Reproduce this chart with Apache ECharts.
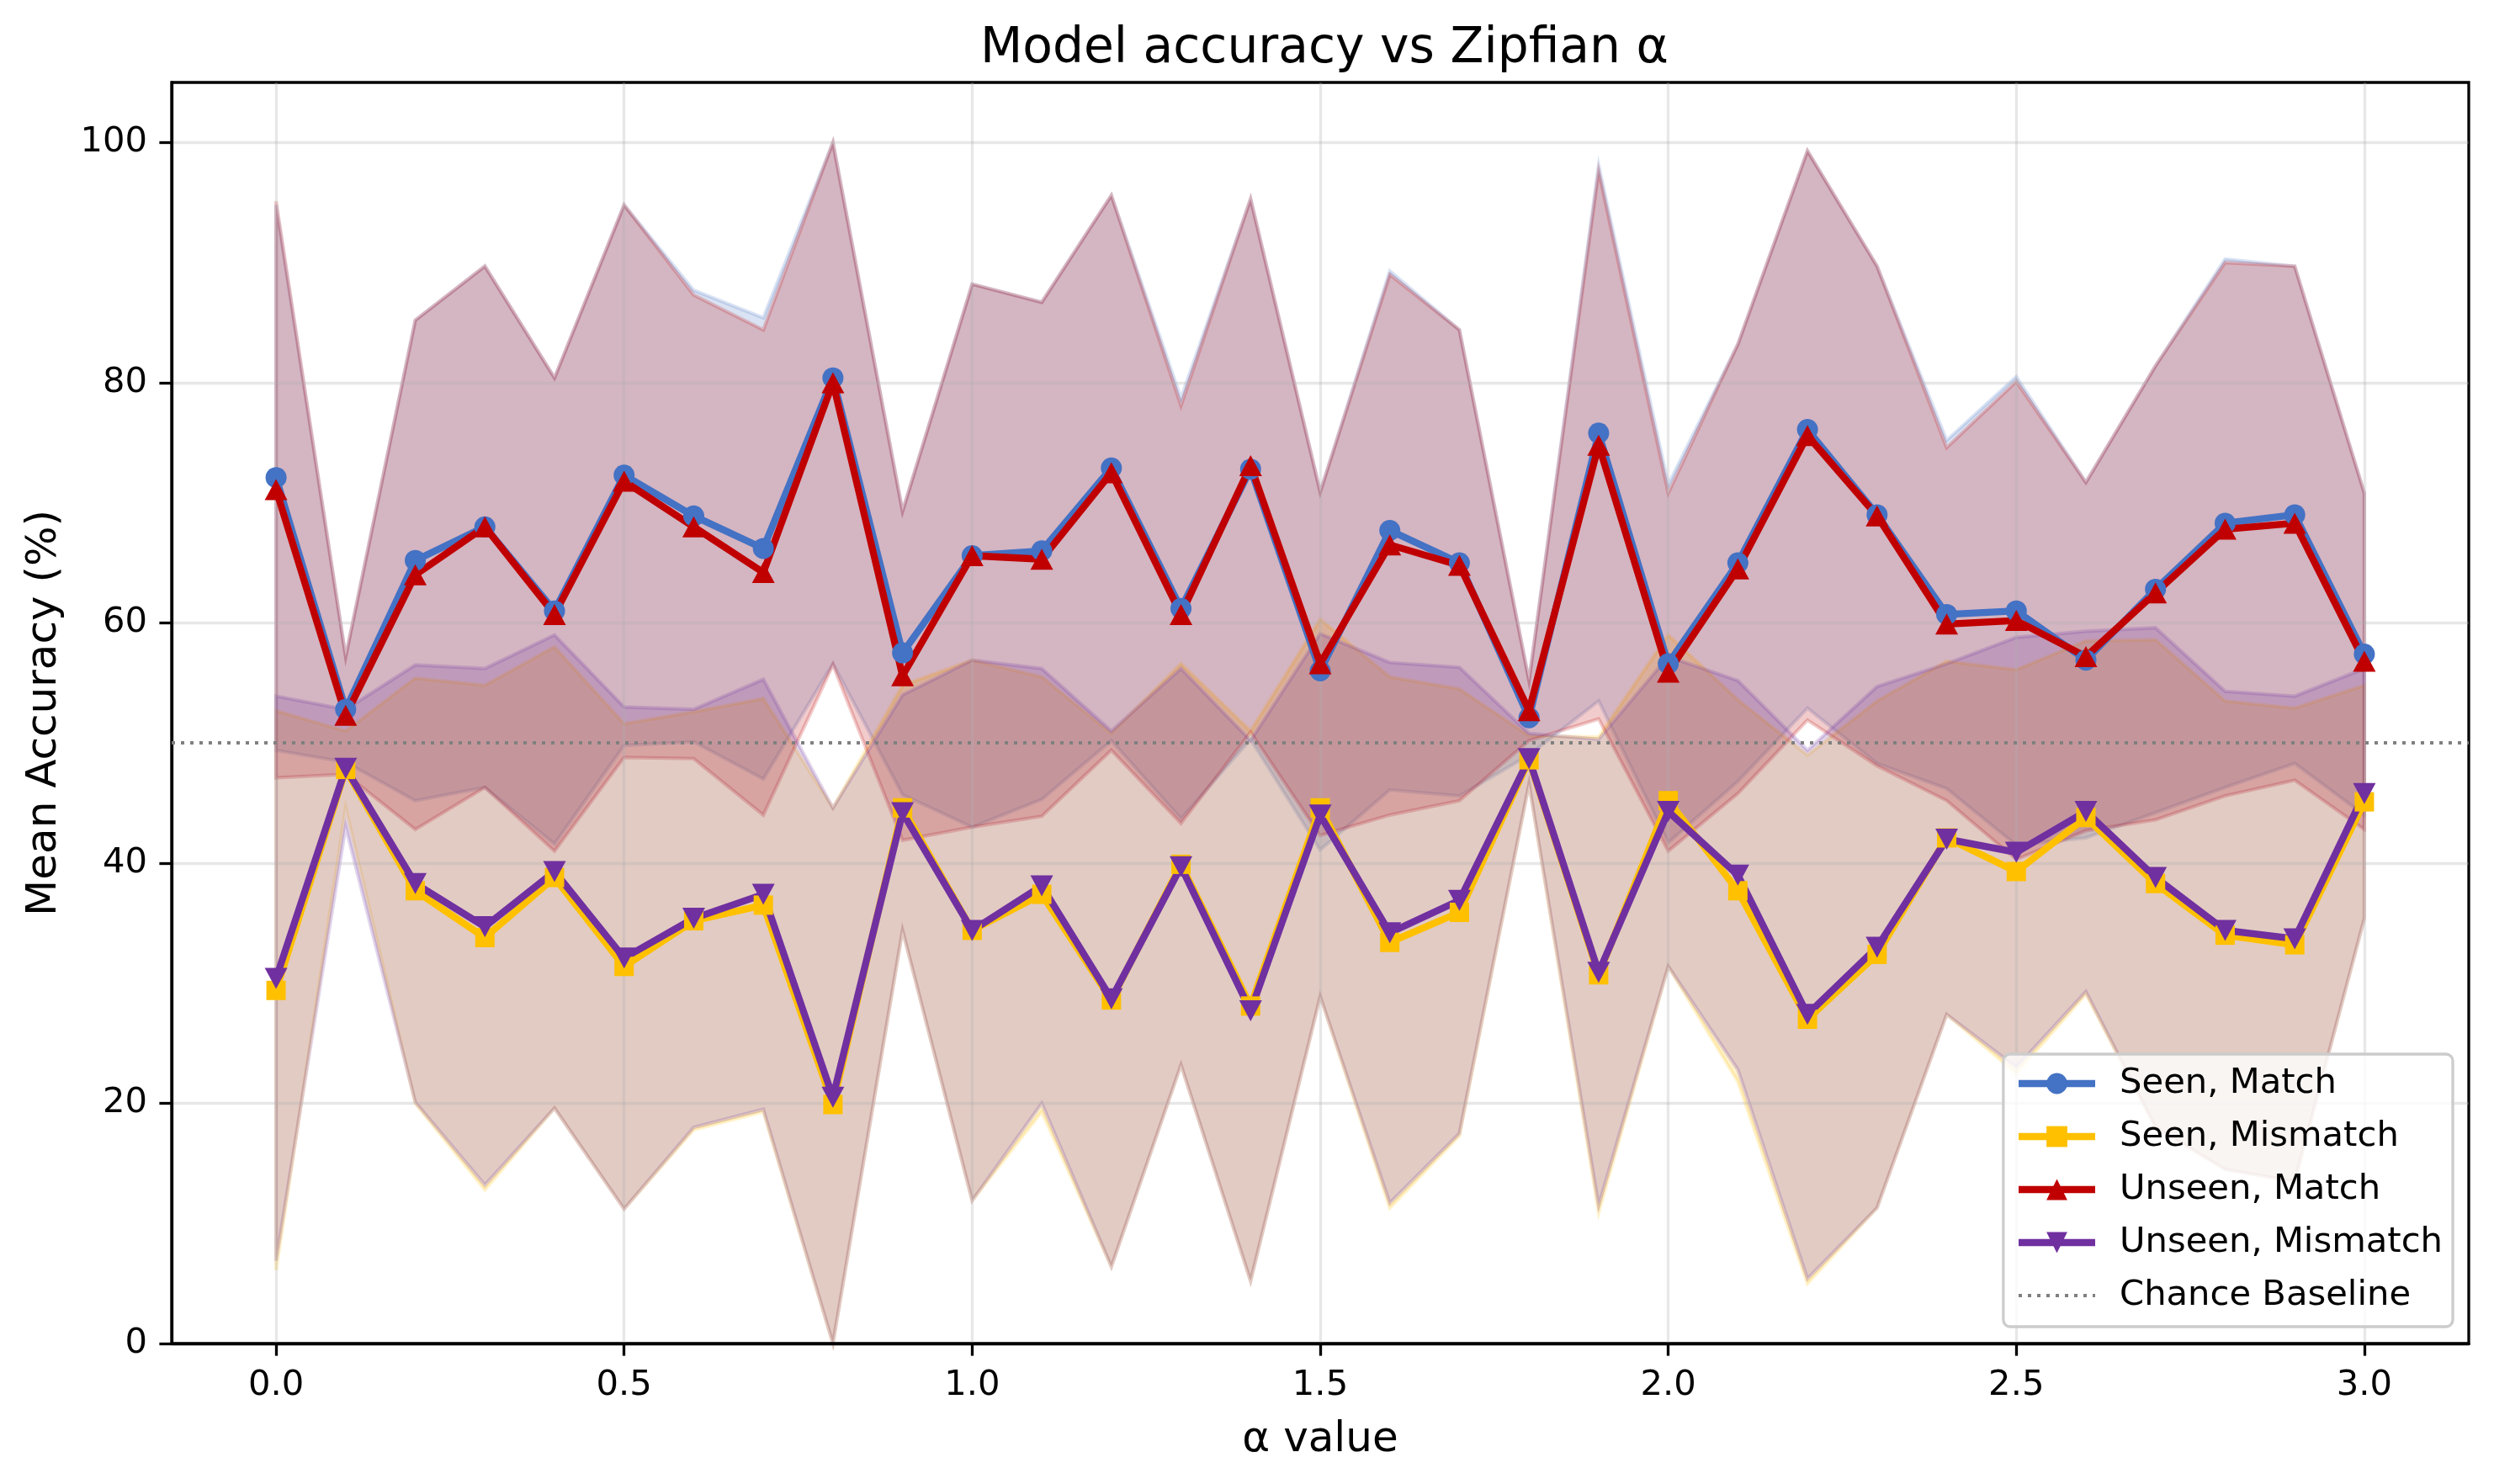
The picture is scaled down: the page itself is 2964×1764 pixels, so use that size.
<!DOCTYPE html>
<html>
<head>
<meta charset="utf-8">
<title>Model accuracy vs Zipfian α</title>
<script src="https://cdn.jsdelivr.net/npm/echarts@6.0.0/dist/echarts.min.js"></script>
<style>
  html, body { margin: 0; padding: 0; background: #fff; }
  #main { width: 2964px; height: 1764px; }
</style>
</head>
<body>
<div id="main"></div>
<script>
// alpha values (x axis)
var alphas = [0.0, 0.1, 0.2, 0.3, 0.4, 0.5, 0.6, 0.7, 0.8, 0.9, 1.0, 1.1, 1.2, 1.3, 1.4, 1.5,
              1.6, 1.7, 1.8, 1.9, 2.0, 2.1, 2.2, 2.3, 2.4, 2.5, 2.6, 2.7, 2.8, 2.9, 3.0];

// mean accuracy (%)
var seenMatch      = [72.1, 52.8, 65.2, 68.0, 61.0, 72.3, 68.9, 66.2, 80.4, 57.5, 65.6, 66.0, 72.9, 61.2, 72.8, 56.0,
                      67.7, 65.0, 52.1, 75.8, 56.6, 65.0, 76.1, 69.0, 60.7, 61.0, 56.9, 62.8, 68.3, 69.0, 57.4];
var seenMismatch   = [29.4, 47.8, 37.7, 33.8, 38.8, 31.4, 35.2, 36.5, 19.9, 44.6, 34.4, 37.4, 28.6, 39.9, 28.1, 44.6,
                      33.4, 35.9, 48.6, 30.7, 45.2, 37.7, 27.0, 32.4, 42.1, 39.3, 43.8, 38.3, 34.0, 33.2, 45.1];
var unseenMatch    = [71.1, 52.3, 64.0, 68.0, 60.7, 71.8, 68.0, 64.2, 80.0, 55.6, 65.6, 65.3, 72.5, 60.7, 73.1, 56.6,
                      66.5, 64.8, 52.7, 74.8, 55.9, 64.5, 75.6, 68.9, 59.9, 60.2, 57.2, 62.5, 67.8, 68.3, 56.8];
var unseenMismatch = [30.4, 47.9, 38.3, 34.7, 39.3, 32.1, 35.4, 37.4, 20.5, 44.2, 34.4, 38.1, 28.7, 39.7, 27.7, 44.0,
                      34.2, 36.9, 48.7, 30.9, 44.3, 39.0, 27.4, 33.0, 42.0, 40.9, 44.3, 38.8, 34.4, 33.7, 45.8];

// standard deviation (shaded band = mean +/- std, clipped to 0..100)
var seenMatchStd      = [22.7, 4.4, 20.0, 21.7, 19.4, 22.5, 18.8, 19.2, 23.8, 11.8, 22.6, 20.7, 22.7, 17.5, 22.5, 14.9,
                         21.6, 19.4, 3.1, 22.3, 14.9, 18.2, 23.2, 20.7, 14.5, 19.5, 14.8, 18.6, 22.0, 20.7, 13.4];
var seenMismatchStd   = [23.3, 3.2, 17.7, 21.0, 19.2, 20.2, 17.4, 17.2, 24.7, 10.2, 22.5, 18.1, 22.2, 16.7, 22.9, 15.7,
                         22.1, 18.6, 2.0, 19.8, 13.8, 15.9, 22.0, 21.1, 14.7, 16.8, 14.7, 20.3, 19.5, 19.7, 9.7];
var unseenMatchStd    = [24.0, 4.9, 21.2, 21.7, 19.7, 23.0, 19.3, 20.2, 23.5, 13.7, 22.6, 21.4, 23.1, 17.4, 22.2, 14.3,
                         22.5, 19.6, 2.5, 22.8, 14.9, 18.7, 23.7, 20.8, 14.7, 19.9, 14.5, 18.9, 22.2, 21.4, 14.0];
var unseenMismatchStd = [23.5, 4.9, 18.2, 21.5, 19.7, 20.9, 17.4, 17.9, 24.1, 9.8, 22.5, 18.1, 22.3, 16.5, 22.5, 15.1,
                         22.5, 19.4, 2.1, 19.4, 12.9, 16.2, 22.0, 21.7, 14.6, 17.9, 15.0, 20.8, 19.9, 20.2, 10.4];

var chance = 50;
var xTicks = [0.0, 0.5, 1.0, 1.5, 2.0, 2.5, 3.0];
var yTicks = [0, 20, 40, 60, 80, 100];

var names = ['Seen, Match', 'Seen, Mismatch', 'Unseen, Match', 'Unseen, Mismatch', 'Chance Baseline'];

function rgba(hex, a) {
  var n = parseInt(hex.slice(1), 16);
  return 'rgba(' + (n >> 16 & 255) + ',' + (n >> 8 & 255) + ',' + (n & 255) + ',' + a + ')';
}

function pairs(vals) {
  return alphas.map(function (a, i) { return [a, vals[i]]; });
}

// fill_between-like band, one polygon through the axis scales
function band(color, mean, std) {
  var rows = alphas.map(function (a, i) {
    return [a, Math.max(0, mean[i] - std[i]), Math.min(100, mean[i] + std[i])];
  });
  return {
    type: 'custom',
    coordinateSystem: 'cartesian2d',
    silent: true,
    z: -1,
    data: rows,
    encode: { x: 0, y: [1, 2] },
    renderItem: function (params, api) {
      if (params.dataIndex !== 0) return null;
      var pts = [];
      for (var i = 0; i < rows.length; i++) pts.push(api.coord([rows[i][0], rows[i][2]]));
      for (var j = rows.length - 1; j >= 0; j--) pts.push(api.coord([rows[j][0], rows[j][1]]));
      return {
        type: 'polygon',
        shape: { points: pts },
        style: { fill: rgba(color, 0.2), stroke: rgba(color, 0.2), lineWidth: 4.2 }
      };
    }
  };
}

function line(name, color, vals, symbol, size, rot) {
  return {
    name: name,
    type: 'line',
    data: pairs(vals),
    symbol: symbol,
    symbolSize: size,
    symbolRotate: rot || 0,
    showSymbol: true,
    lineStyle: { color: color, width: 8.3 },
    itemStyle: { color: color },
    z: 3
  };
}

var legendData = names.map(function (n, i) {
  return i < 4 ? { name: n, lineStyle: { width: 8.3 } } : { name: n, lineStyle: { width: 4 } };
});

var myChart = echarts.init(document.getElementById('main'));

var option = {
  animation: false,
  backgroundColor: '#fff',
  textStyle: { fontFamily: 'DejaVu Sans', color: '#000' },
  title: {
    text: 'Model accuracy vs Zipfian α',
    left: 1569,
    top: 25,
    textAlign: 'center',
    textStyle: { fontFamily: 'DejaVu Sans', fontSize: 58.3, fontWeight: 'normal', color: '#000' }
  },
  grid: {
    left: 204, top: 98, right: 30, bottom: 167,
    show: true, borderColor: '#000', borderWidth: 3.3, backgroundColor: 'transparent'
  },
  legend: {
    data: legendData,
    orient: 'vertical',
    right: 49,
    bottom: 187,
    itemWidth: 91,
    itemHeight: 31,
    itemGap: 21,
    padding: [14, 12, 16, 14],
    backgroundColor: 'rgba(255,255,255,0.8)',
    borderColor: '#cccccc',
    borderWidth: 3.3,
    borderRadius: 8,
    textStyle: { fontFamily: 'DejaVu Sans', fontSize: 41.7, lineHeight: 42, color: '#000', padding: [0, 0, 0, 24] }
  },
  xAxis: {
    type: 'value',
    min: -0.15,
    max: 3.15,
    name: 'α value',
    nameLocation: 'middle',
    nameGap: 90,
    nameTextStyle: { fontFamily: 'DejaVu Sans', fontSize: 50, color: '#000' },
    axisLine: { show: true, onZero: false, lineStyle: { color: '#000', width: 3.3 } },
    axisTick: { show: true, length: 14.6, lineStyle: { color: '#000', width: 3.3 }, customValues: xTicks },
    axisLabel: {
      customValues: xTicks, margin: 29, fontSize: 41.7, color: '#000', fontFamily: 'DejaVu Sans',
      formatter: function (v) { return v.toFixed(1); }
    },
    splitLine: { show: true, lineStyle: { color: 'rgba(176,176,176,0.3)', width: 3.3 } }
  },
  yAxis: {
    type: 'value',
    min: 0,
    max: 105,
    name: 'Mean Accuracy (%)',
    nameLocation: 'middle',
    nameGap: 126,
    nameTextStyle: { fontFamily: 'DejaVu Sans', fontSize: 50, color: '#000' },
    axisLine: { show: true, onZero: false, lineStyle: { color: '#000', width: 3.3 } },
    axisTick: { show: true, length: 14.6, lineStyle: { color: '#000', width: 3.3 }, customValues: yTicks },
    axisLabel: {
      customValues: yTicks, margin: 29, fontSize: 41.7, color: '#000', fontFamily: 'DejaVu Sans',
      formatter: function (v) { return String(v); }
    },
    splitLine: { show: true, lineStyle: { color: 'rgba(176,176,176,0.3)', width: 3.3 } }
  },
  series: [
    band('#4472C4', seenMatch, seenMatchStd),
    line('Seen, Match', '#4472C4', seenMatch, 'circle', 25),
    band('#FFC000', seenMismatch, seenMismatchStd),
    line('Seen, Mismatch', '#FFC000', seenMismatch, 'rect', 23),
    band('#C00000', unseenMatch, unseenMatchStd),
    line('Unseen, Match', '#C00000', unseenMatch, 'triangle', [27, 25]),
    band('#7030A0', unseenMismatch, unseenMismatchStd),
    line('Unseen, Mismatch', '#7030A0', unseenMismatch, 'triangle', [27, 25], 180),
    {
      name: 'Chance Baseline',
      type: 'line',
      data: [],
      symbol: 'circle',
      itemStyle: { opacity: 0 },
      lineStyle: { color: '#808080', width: 4, type: [4, 7] },
      z: 4,
      markLine: {
        silent: true,
        symbol: 'none',
        label: { show: false },
        lineStyle: { color: '#808080', width: 4, type: [4, 7] },
        data: [{ yAxis: chance }]
      }
    }
  ]
};

myChart.setOption(option);
</script>
</body>
</html>
